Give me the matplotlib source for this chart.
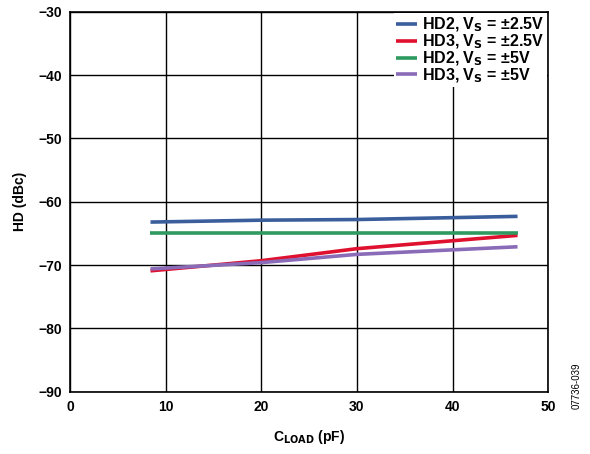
import matplotlib
matplotlib.use("Agg")
import matplotlib.pyplot as plt

plt.rcParams['font.family'] = ['Liberation Sans', 'DejaVu Sans']
plt.rcParams['font.weight'] = 'bold'

# data
c_load = [8.4, 20, 30, 46.8]
hd2_25 = [-63.2, -62.9, -62.8, -62.3]
hd3_25 = [-70.9, -69.3, -67.4, -65.3]
hd2_5 = [-65.0, -65.0, -65.0, -65.0]
hd3_5 = [-70.6, -69.6, -68.3, -67.1]

labels = [r'HD2, V$_\mathbf{S}$ = ±2.5V', r'HD3, V$_\mathbf{S}$ = ±2.5V',
          r'HD2, V$_\mathbf{S}$ = ±5V', r'HD3, V$_\mathbf{S}$ = ±5V']
colors = ['#3a5e9c', '#e0102f', '#2e9a60', '#8a6bb8']

fig = plt.figure(figsize=(5.9, 4.54), dpi=100)
ax = fig.add_axes([0.119, 0.137, 0.81, 0.837])

for y, c, lab in zip([hd2_25, hd3_25, hd2_5, hd3_5], colors, labels):
    ax.plot(c_load, y, color=c, lw=2.6, label=lab, solid_capstyle='butt')

ax.set_xlim(0, 50)
ax.set_ylim(-90, -30)
ax.set_xticks(range(0, 51, 10))
ax.set_yticks(range(-90, -29, 10))
ax.set_yticklabels(['−90', '−80', '−70', '−60', '−50', '−40', '−30'])
ax.grid(True, color='black', lw=1)
ax.tick_params(length=0, labelsize=10, pad=6)
for s in ax.spines.values():
    s.set_linewidth(1.2)
ax.set_xlabel(r'C$_\mathbf{LOAD}$ (pF)', fontsize=10, fontweight='bold', labelpad=10)
ax.set_ylabel('HD (dBc)', fontsize=10, fontweight='bold', labelpad=8)

leg = ax.legend(loc='upper right', fontsize=11.5, frameon=True, framealpha=1,
                edgecolor='none', fancybox=False, handlelength=1.3,
                handletextpad=0.3, labelspacing=-0.1, borderpad=0.15,
                borderaxespad=0.1)
for t in leg.get_texts():
    t.set_fontweight('bold')

fig.text(0.977, 0.1, '07736-039', rotation=90, fontsize=7, fontweight='normal',
         ha='center', va='bottom')

fig.savefig('out.png', dpi=100)
